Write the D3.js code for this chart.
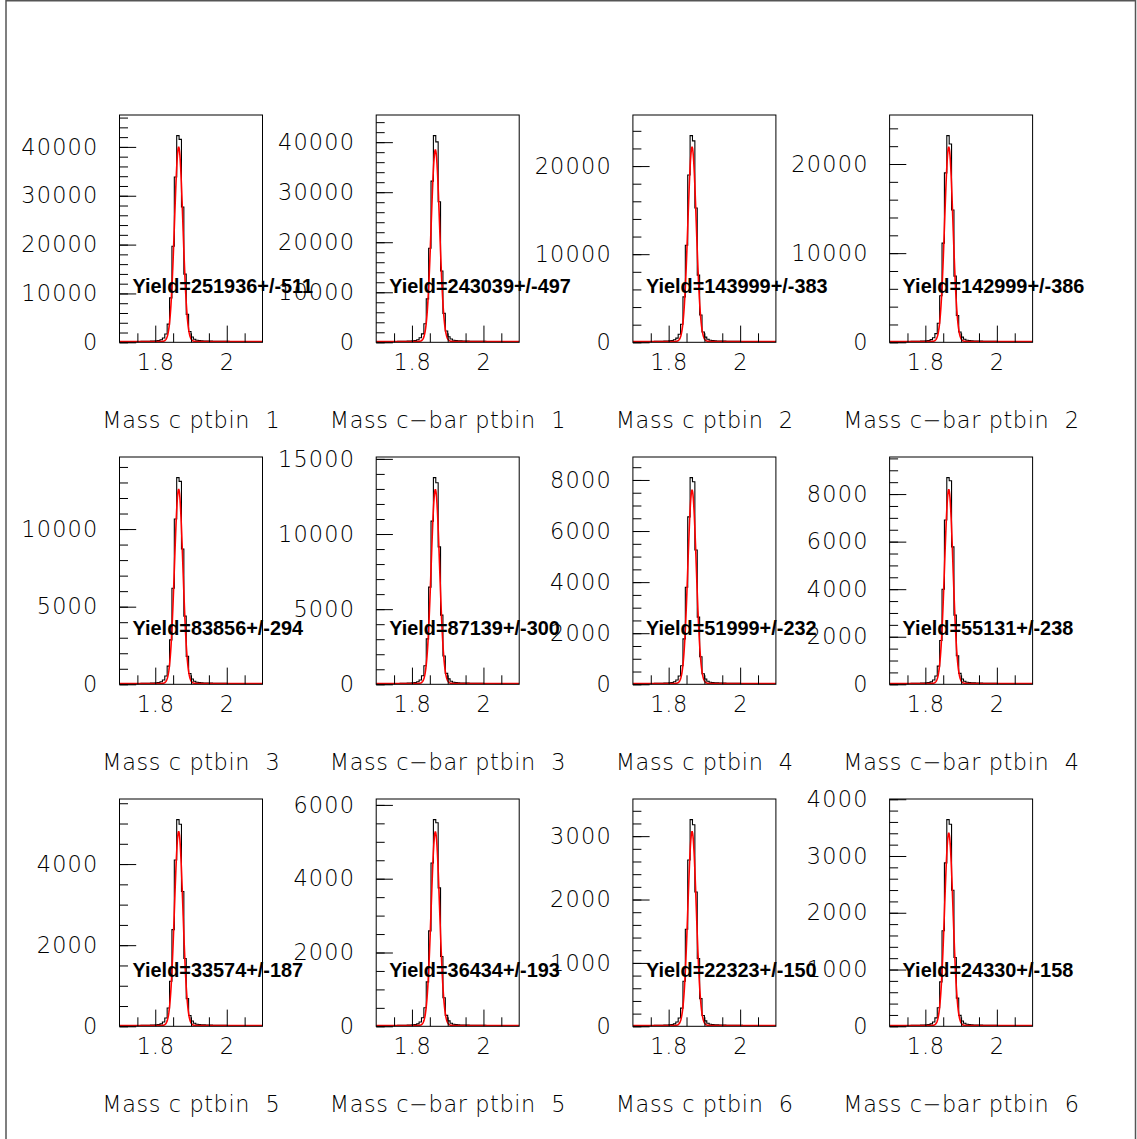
<!DOCTYPE html>
<html>
<head>
<meta charset="utf-8">
<script src="https://cdn.jsdelivr.net/npm/d3@7"></script>
<style>
  html, body { margin: 0; padding: 0; background: #ffffff; }
  svg { display: block; }
  .thin { font-family: "DejaVu Sans", "Liberation Sans", sans-serif; font-weight: 200; }
  .yield { font-family: "Liberation Sans", Arial, sans-serif; font-weight: bold; }
</style>
</head>
<body>
<script>
// Invariant-mass range and binning of every histogram
const massMin = 1.7;
const massMax = 2.1;
const nBins = 60;

// Histogram titles, one per pad (c and c-bar in each pT bin)
const titles = [
  "Mass c ptbin  1", "Mass c\u2212bar ptbin  1", "Mass c ptbin  2", "Mass c\u2212bar ptbin  2",
  "Mass c ptbin  3", "Mass c\u2212bar ptbin  3", "Mass c ptbin  4", "Mass c\u2212bar ptbin  4",
  "Mass c ptbin  5", "Mass c\u2212bar ptbin  5", "Mass c ptbin  6", "Mass c\u2212bar ptbin  6"
];

// Fitted signal yields and their errors
const yields = [251936, 243039, 143999, 142999, 83856, 87139, 51999, 55131, 33574, 36434, 22323, 24330];
const yieldErrors = [511, 497, 383, 386, 294, 300, 232, 238, 187, 193, 150, 158];

// Major y-tick step per pad
const yTickStep = [10000, 10000, 10000, 10000, 5000, 5000, 2000, 2000, 2000, 2000, 1000, 1000];

// Gaussian + flat background fit parameters per pad
const fitAmplitude = [39800, 38300, 22050, 21800, 12500, 12900, 7570, 8150, 4780, 5250, 3060, 3390];
const fitMean = [1.8655, 1.8655, 1.8655, 1.8655, 1.8655, 1.8655, 1.8655, 1.8655, 1.8655, 1.8655, 1.8655, 1.8655];
const fitSigma = [0.0118, 0.0118, 0.0118, 0.0118, 0.0118, 0.0118, 0.0118, 0.0118, 0.0118, 0.0118, 0.0118, 0.0118];
const fitBackground = [170, 165, 94, 93, 53, 55, 32, 35, 20, 22, 13, 14];

// Bin contents (60 bins from 1.7 to 2.1 GeV)
const counts1 = [120,135,128,140,150,146,158,165,170,182,190,205,215,240,268,300,
  338,508,888,1690,3720,9090,19670,33840,42300,41540,27710,13960,5710,2200,1100,635,423,338,
  300,280,262,250,238,225,215,208,200,192,186,180,172,168,160,155,150,146,140,136,132,128,124,120,118,115];
const counts2 = [118,130,125,138,144,150,155,160,172,178,188,200,212,236,262,290,
  330,496,909,1693,3717,8673,18790,32210,41300,40060,28080,14250,5782,2272,1115,661,413,330,
  295,276,258,246,232,222,212,204,196,190,183,176,170,164,158,152,148,143,138,134,130,126,122,118,115,112];
const counts3 = [66,74,70,77,82,80,87,91,94,100,105,113,118,132,147,165,
  188,281,469,915,2040,5159,11020,18990,23450,22860,15240,7621,3095,1173,586,352,235,188,
  165,154,144,138,131,124,118,114,110,106,102,99,95,92,88,85,82,80,77,75,73,70,68,66,65,63];
const counts4 = [65,72,69,76,80,79,86,90,93,99,104,112,117,130,145,162,
  209,301,510,974,2133,5216,11130,19010,23180,22250,14840,7418,3013,1159,580,348,232,185,
  163,152,142,136,129,122,117,113,108,105,101,97,94,91,87,84,81,79,76,74,72,69,67,65,64,62];
const counts5 = [37,42,40,44,46,45,49,51,53,57,59,64,67,75,83,93,
  106,160,280,532,1171,2862,6189,10650,13310,13070,8718,4392,1797,692,346,200,133,106,
  94,88,82,78,74,70,67,65,62,60,58,56,54,52,50,48,47,45,44,42,41,40,39,38,37,36];
const counts6 = [38,43,41,45,47,46,50,53,55,58,61,66,69,77,86,96,
  110,165,289,564,1238,3025,6463,10860,13750,13410,9144,4606,1884,729,358,206,138,110,
  97,91,85,81,76,72,69,67,64,62,60,58,56,54,52,50,48,47,45,44,42,41,40,39,38,37];
const counts7 = [23,26,24,27,28,28,30,31,32,35,36,39,41,46,51,57,
  65,97,170,324,728,1780,3802,6553,8090,7928,5259,2629,1076,413,210,121,81,65,
  57,54,50,48,45,43,41,39,38,37,35,34,33,32,30,29,29,28,27,26,25,24,24,23,22,22];
const counts8 = [25,28,26,29,30,30,32,34,35,37,39,42,44,49,55,61,
  70,104,182,348,765,1842,3997,6909,8690,8560,5779,2911,1199,461,226,130,87,70,
  62,58,54,51,48,46,44,42,41,39,38,36,35,34,33,32,31,30,29,28,27,26,26,25,24,24];
const counts9 = [14,16,15,17,18,17,19,20,20,22,23,24,26,29,32,36,
  41,61,107,204,453,1111,2384,4101,5095,4983,3322,1671,683,265,132,76,51,41,
  36,34,32,30,28,27,26,25,24,23,22,21,21,20,19,19,18,17,17,16,16,15,15,15,14,14];
const counts10 = [16,18,17,19,20,19,21,22,22,24,25,27,28,32,35,39,
  45,67,118,230,504,1204,2587,4424,5600,5516,3752,1893,773,297,146,84,56,45,
  40,37,35,33,31,30,28,27,26,25,24,24,23,22,21,20,20,19,18,18,17,17,16,16,16,15];
const counts11 = [9,10,10,11,11,11,12,13,13,14,15,16,17,18,21,23,
  26,39,68,130,287,711,1532,2624,3260,3179,2119,1069,437,170,85,49,33,26,
  23,22,20,19,18,17,17,16,15,15,14,14,13,13,12,12,12,11,11,10,10,10,10,9,9,9];
const counts12 = [10,11,11,12,13,12,13,14,15,16,16,17,18,20,23,25,
  29,43,76,148,326,782,1683,2878,3640,3560,2396,1213,496,192,94,54,36,29,
  26,24,23,21,20,19,18,18,17,16,16,15,15,14,14,13,13,12,12,12,11,11,11,10,10,10];

const allCounts = [counts1, counts2, counts3, counts4, counts5, counts6,
                   counts7, counts8, counts9, counts10, counts11, counts12];

// ---- canvas and pad geometry ----
const W = 1137, H = 1139;
const frameLeft = [119.5, 376.2, 632.9, 889.6];
const frameTop = [115, 457, 799];
const frameW = 143, frameH = 227.3;
const majorLen = 16.7, minorLen = 8.5;
const labelSize = 22.4;

const svg = d3.select("body").append("svg")
  .attr("width", W).attr("height", H);

// canvas border
svg.append("rect")
  .attr("x", 6).attr("y", 0.75).attr("width", 1129.5).attr("height", H + 4)
  .attr("fill", "none").attr("stroke", "#555").attr("stroke-width", 1.5);

const binW = (massMax - massMin) / nBins;

allCounts.forEach((counts, i) => {
  const col = i % 4, row = Math.floor(i / 4);
  const x0 = frameLeft[col], y0 = frameTop[row];
  const g = svg.append("g");

  const yMax = 1.1 * d3.max(counts);
  const x = d3.scaleLinear().domain([massMin, massMax]).range([x0, x0 + frameW]);
  const y = d3.scaleLinear().domain([0, yMax]).range([y0 + frameH, y0]);

  const clipId = "clip" + i;
  g.append("clipPath").attr("id", clipId)
    .append("rect").attr("x", x0).attr("y", y0 - 1).attr("width", frameW).attr("height", frameH + 1);

  // histogram drawn as a step outline
  const steps = counts.map((c, k) => [massMin + k * binW, c]);
  steps.push([massMax, counts[counts.length - 1]]);
  const stepLine = d3.line()
    .x(d => x(d[0])).y(d => y(d[1]))
    .curve(d3.curveStepAfter);
  g.append("path")
    .attr("clip-path", `url(#${clipId})`)
    .attr("d", stepLine(steps))
    .attr("fill", "none").attr("stroke", "#000").attr("stroke-width", 1.1);

  // fitted Gaussian + constant background
  const A = fitAmplitude[i], mu = fitMean[i], s = fitSigma[i], b = fitBackground[i];
  const fx = d3.range(0, 401).map(j => massMin + j * (massMax - massMin) / 400);
  const fitLine = d3.line()
    .x(m => x(m))
    .y(m => y(A * Math.exp(-0.5 * ((m - mu) / s) ** 2) + b));
  g.append("path")
    .attr("clip-path", `url(#${clipId})`)
    .attr("d", fitLine(fx))
    .attr("fill", "none").attr("stroke", "#ff0000").attr("stroke-width", 1.6);

  // frame
  g.append("rect")
    .attr("x", x0).attr("y", y0).attr("width", frameW).attr("height", frameH)
    .attr("fill", "none").attr("stroke", "#000").attr("stroke-width", 1);

  // y axis: labelled major ticks and unlabelled minor ticks
  const step = yTickStep[i];
  const minorDiv = step === 2000 ? 4 : 5;
  const majors = d3.range(0, yMax + 1e-9, step);
  const minors = d3.range(0, yMax + 1e-9, step / minorDiv);

  const yMinor = g.append("g").attr("transform", `translate(${x0},0)`)
    .call(d3.axisLeft(y).tickValues(minors).tickSize(-minorLen).tickFormat(""));
  yMinor.select(".domain").remove();

  const yMajor = g.append("g").attr("transform", `translate(${x0},0)`)
    .call(d3.axisLeft(y).tickValues(majors).tickSizeInner(-majorLen).tickSizeOuter(0)
      .tickPadding(21).tickFormat(d3.format("d")));
  yMajor.select(".domain").remove();
  yMajor.selectAll(".tick text").style("letter-spacing", "1.2px");

  // x axis
  const xMajors = [1.8, 2.0];
  const xMinors = [1.75, 1.85, 1.9, 1.95, 2.05];
  const xMinorG = g.append("g").attr("transform", `translate(0,${y0 + frameH})`)
    .call(d3.axisBottom(x).tickValues(xMinors).tickSize(-minorLen - 0.5).tickFormat(""));
  xMinorG.select(".domain").remove();
  const xMajorG = g.append("g").attr("transform", `translate(0,${y0 + frameH})`)
    .call(d3.axisBottom(x).tickValues(xMajors).tickSizeInner(-majorLen).tickSizeOuter(0)
      .tickPadding(11.5).tickFormat(d => d === 2 ? "2" : d3.format(".1f")(d)));
  xMajorG.select(".domain").remove();
  xMajorG.selectAll(".tick text").style("letter-spacing", "0.8px");

  g.selectAll(".tick line").attr("stroke", "#000").attr("stroke-width", 1);
  g.selectAll(".tick text")
    .attr("class", "thin")
    .style("font-size", labelSize + "px")
    .attr("fill", "#000");

  // axis title under the frame
  g.append("text")
    .attr("class", "thin")
    .attr("x", x0 + frameW / 2 + 0.3).attr("y", y0 + frameH + 85.5)
    .attr("text-anchor", "middle")
    .style("font-size", labelSize + "px")
    .style("letter-spacing", "0.6px")
    .style("white-space", "pre")
    .attr("fill", "#000")
    .text(titles[i]);

  // fitted yield
  g.append("text")
    .attr("class", "yield")
    .attr("x", x0 + 13).attr("y", y0 + 178.3)
    .style("font-size", "19.9px")
    .attr("fill", "#000")
    .text(`Yield=${yields[i]}+/-${yieldErrors[i]}`);
});
</script>
</body>
</html>
